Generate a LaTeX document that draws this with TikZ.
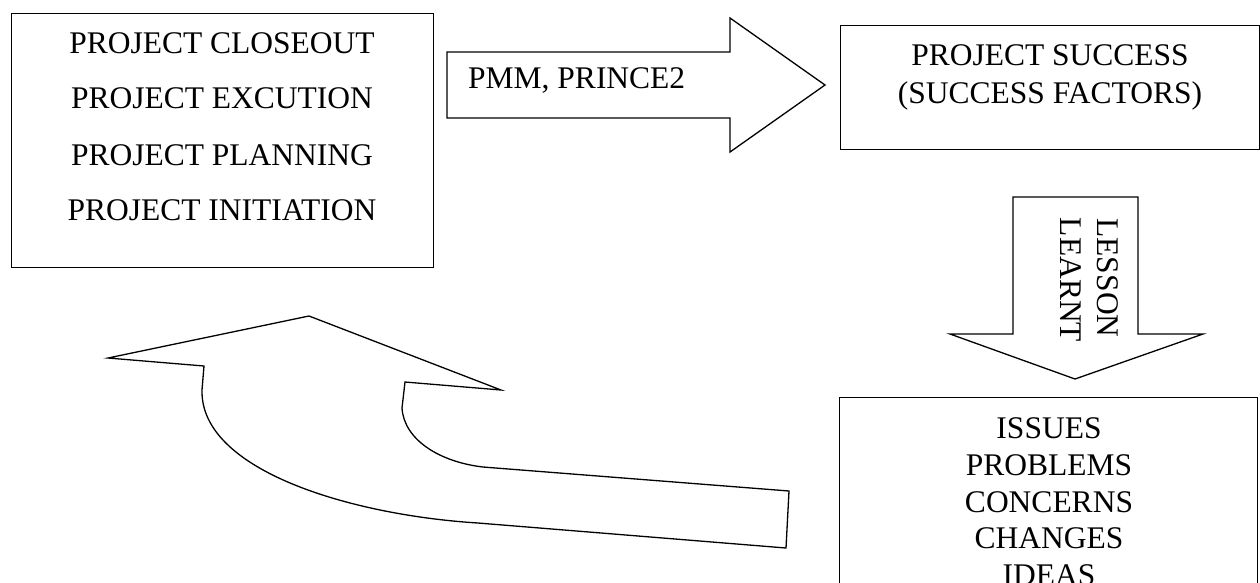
\documentclass[tikz,border=0pt]{standalone}
\usepackage{fontspec}
\setmainfont{Liberation Serif}
\begin{document}
\begin{tikzpicture}[x=1pt,y=-1pt,
  shape line/.style={draw=black, line width=1.3pt, line join=miter},
  boxnode/.style={draw=black, line width=1.3pt, anchor=north west, inner sep=0pt},
  label/.style={font=\fontsize{31.5}{36}\selectfont, inner sep=0pt, anchor=base}]
\useasboundingbox (0,0) rectangle (1260,582);
\clip (0,0) rectangle (1260,582);
\fill[white] (0,0) rectangle (1260,582);

% left box
\node[boxnode, minimum width=422pt, minimum height=254pt] (phases) at (11,13) {};
\node[label] (closeout) at (222,53) {PROJECT CLOSEOUT};
\node[label] (excution) at (222,108) {PROJECT EXCUTION};
\node[label] (planning) at (222,165) {PROJECT PLANNING};
\node[label] (initiation) at (222,220) {PROJECT INITIATION};

% right arrow
\coordinate (ra) at (447,52);
\draw[shape line] (ra) -- (730,52) -- (730,18) -- (825,85) -- (730,152) -- (730,118) -- (447,118) -- cycle;
\node[label, anchor=base west] (pmm) at (468,88) {PMM, PRINCE2};

% success box
\node[boxnode, minimum width=419pt, minimum height=124pt] (success) at (840,25) {};
\node[label] (succ1) at (1050,65) {PROJECT SUCCESS};
\node[label] (succ2) at (1050,103) {(SUCCESS FACTORS)};

% down arrow
\coordinate (da) at (1013,197);
\draw[shape line] (da) -- (1138,197) -- (1138,334) -- (1203,334) -- (1075,379) -- (950,334) -- (1013,334) -- cycle;
\node[label, rotate=-90] (lesson) at (1097,278) {LESSON};
\node[label, rotate=-90] (learnt) at (1060,280) {LEARNT};

% bottom box
\node[boxnode, minimum width=418pt, minimum height=220pt] (issues) at (839,397) {};
\node[label] (t1) at (1049,438) {ISSUES};
\node[label] (t2) at (1049,475) {PROBLEMS};
\node[label] (t3) at (1049,512) {CONCERNS};
\node[label] (t4) at (1049,548) {CHANGES};
\node[label] (t5) at (1049,585) {IDEAS};

% curved return arrow
\coordinate (ca) at (108,358);
\draw[shape line] (ca) -- (309,316) -- (501,390) -- (405,382) -- (402,408)
  .. controls (404,440) and (440,462) .. (483,467) -- (789,491) -- (786,548) -- (478,523)
  .. controls (350,515) and (200,470) .. (202,390) -- (204,366) -- cycle;
\end{tikzpicture}
\end{document}
